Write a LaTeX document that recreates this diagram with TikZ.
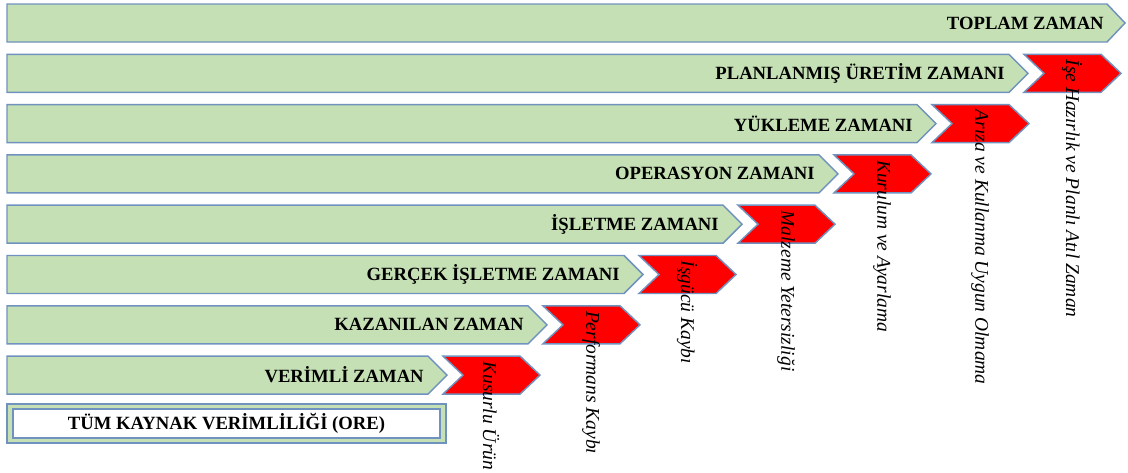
\documentclass[tikz,border=0pt]{standalone}
\usepackage{fontspec}
\setmainfont{Liberation Serif}
\definecolor{bordc}{RGB}{112,146,190}
\definecolor{greenf}{RGB}{197,224,180}
\definecolor{redf}{RGB}{255,0,0}
\begin{document}
\begin{tikzpicture}[x=0.75pt,y=-0.75pt,
  garrow/.style={draw=bordc, fill=greenf, line width=1.1pt},
  rchev/.style={draw=bordc, fill=redf, line width=1.1pt},
  glabel/.style={anchor=east, inner sep=0pt, font=\bfseries\fontsize{14}{16}\selectfont},
  vlabel/.style={anchor=west, rotate=-90, inner sep=0pt, font=\itshape\fontsize{14.6}{17}\selectfont},
  orelabel/.style={inner sep=0pt, font=\bfseries\fontsize{14}{16}\selectfont}]
\useasboundingbox (0,0) rectangle (1128,472);
% row 1
\draw[garrow] (7,4) -- (1107,4) -- (1125,23) -- (1107,42) -- (7,42) -- cycle;
\node[glabel] (g1) at (1104,23) {TOPLAM ZAMAN};
% rows 2-8
\foreach \i/\L/\g/\v in {
  2/1024/PLANLANMIŞ ÜRETİM ZAMANI/İşe Hazırlık ve Planlı Atıl Zaman,
  3/932/YÜKLEME ZAMANI/Arıza ve Kullanma Uygun Olmama,
  4/834/OPERASYON ZAMANI/Kurulum ve Ayarlama,
  5/738/İŞLETME ZAMANI/Malzeme Yetersizliği,
  6/639/GERÇEK İŞLETME ZAMANI/İşgücü Kaybı,
  7/543/KAZANILAN ZAMAN/Performans Kaybı,
  8/443/VERİMLİ ZAMAN/Kusurlu Ürün}{
  \pgfmathsetmacro\t{4+50.3*(\i-1)}
  \pgfmathsetmacro\E{\L-15}
  \draw[garrow] (7,\t) -- (\E,\t) -- ({\E+19},{\t+19}) -- (\E,{\t+38}) -- (7,{\t+38}) -- cycle;
  \node[glabel] (g\i) at ({\E-4},{\t+19}) {\g};
  \draw[rchev] (\L,\t) -- ({\L+77},\t) -- ({\L+97},{\t+19}) -- ({\L+77},{\t+38}) -- (\L,{\t+38}) -- ({\L+20},{\t+19}) -- cycle;
  \node[vlabel] (v\i) at ({\L+48},{\t+5}) {\v};
}
% ORE box
\draw[draw=bordc, fill=greenf, line width=1.1pt] (7,404) rectangle (446,443);
\draw[draw=bordc, fill=white, line width=1.1pt] (13,409) rectangle (440,438);
\node[orelabel] (ore) at (226.5,423.5) {TÜM KAYNAK VERİMLİLİĞİ (ORE)};
\end{tikzpicture}
\end{document}
